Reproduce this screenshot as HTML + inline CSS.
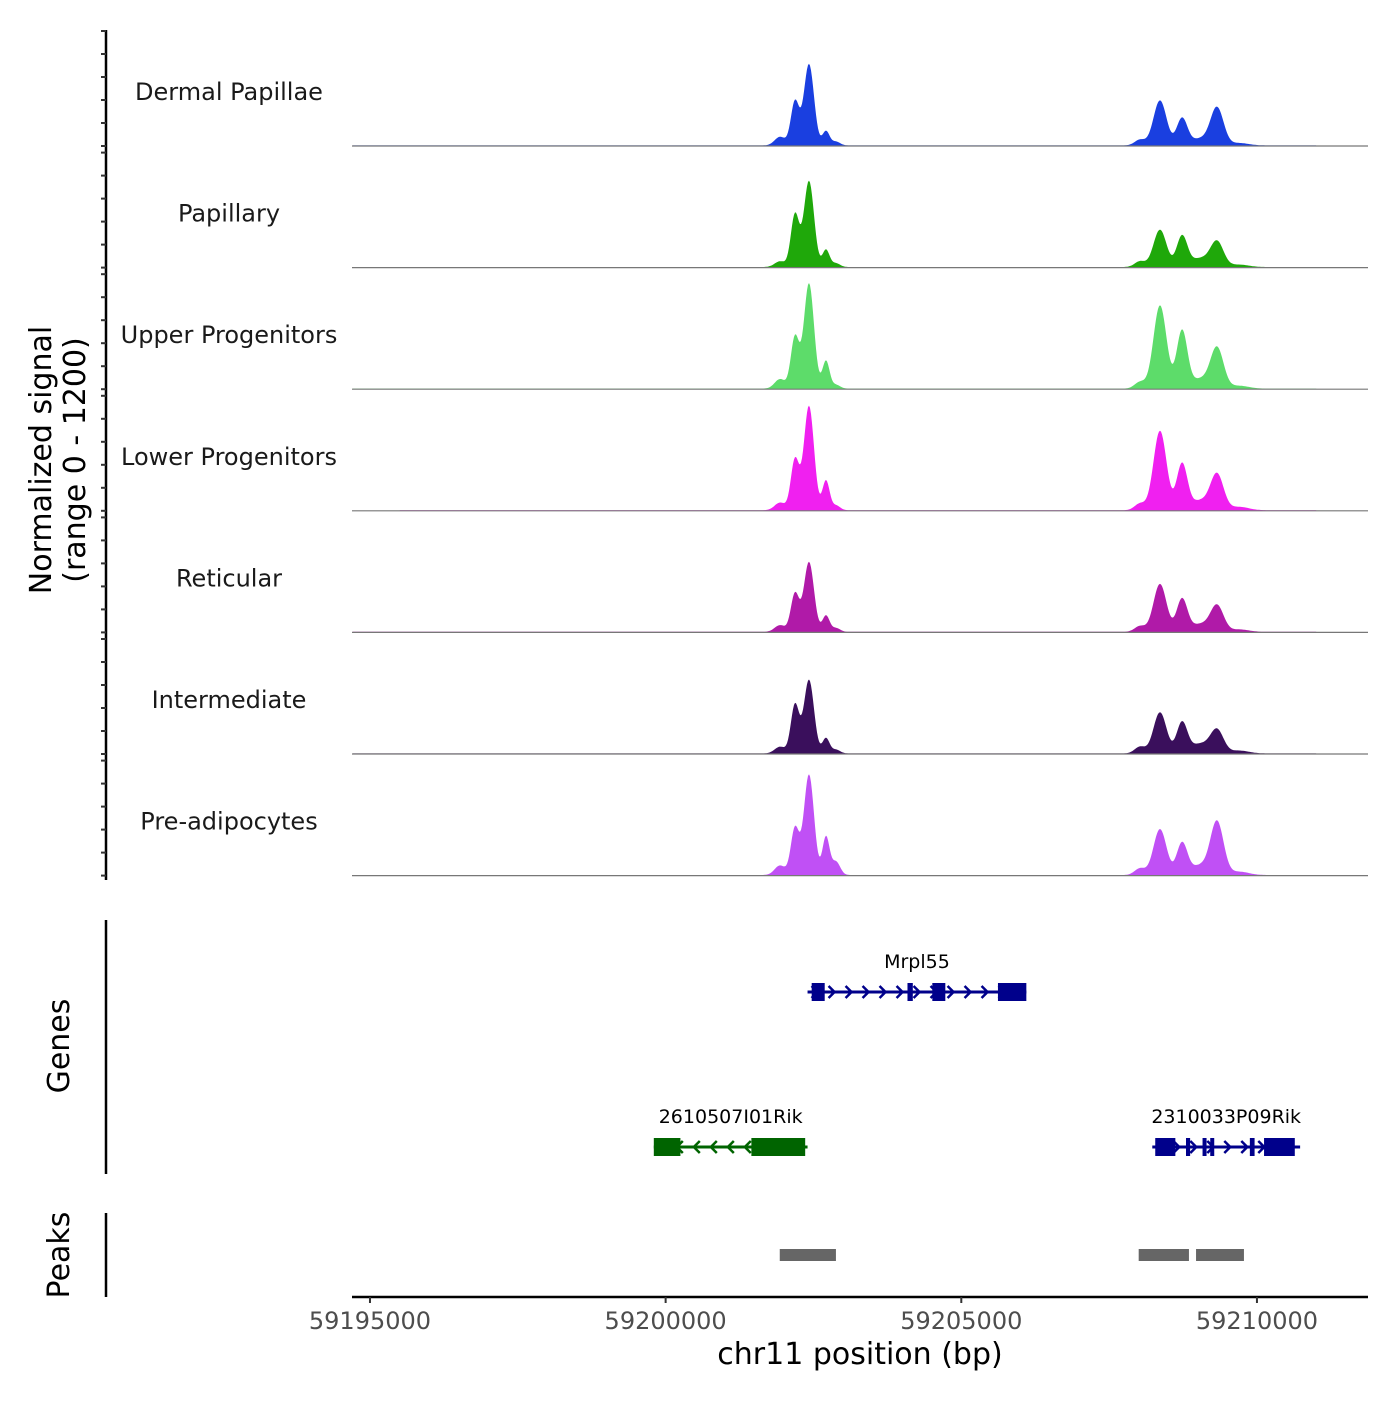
<!DOCTYPE html>
<html><head><meta charset="utf-8"><style>
body{margin:0;background:#fff}
svg{font-family:"DejaVu Sans","Liberation Sans",sans-serif}
</style></head><body>
<svg id="c" width="1400" height="1400" viewBox="0 0 1400 1400">
<g id="tracks"></g>
<g id="genes"></g>
<g id="peaks"></g>
<g id="xaxis"></g>
<text transform="translate(51,460) rotate(-90)" text-anchor="middle" font-size="30">Normalized signal</text>
<text transform="translate(85,460) rotate(-90)" text-anchor="middle" font-size="30">(range 0 - 1200)</text>
<text transform="translate(69,1046) rotate(-90)" text-anchor="middle" font-size="30">Genes</text>
<text transform="translate(69,1255) rotate(-90)" text-anchor="middle" font-size="30">Peaks</text>
<text x="860" y="1364" text-anchor="middle" font-size="30">chr11 position (bp)</text>
</svg>
<script>
const trackNames=["Dermal Papillae","Papillary","Upper Progenitors","Lower Progenitors","Reticular","Intermediate","Pre-adipocytes"];
const trackColors=["#1a3fe0","#1fa80a","#5ddc6a","#f020f0","#b01aa8","#3a0f5c","#c050f5"];
const peakCenters=[59201934,59202188,59202424,59202712,59202881,59208022,59208360,59208733,59209037,59209325,59209700];
const peakWidths=[90,70,85,60,70,90,110,90,160,110,160];
const h0=[90,460,850,150,40,60,470,280,70,390,25];
const h1=[60,550,900,180,40,60,390,320,90,260,25];
const h2=[100,540,1100,290,40,70,870,600,100,420,30];
const h3=[80,530,1090,310,50,70,830,480,100,370,35];
const h4=[70,400,730,170,40,60,500,340,80,270,25];
const h5=[70,510,770,160,40,70,430,320,100,240,30];
const h6=[100,490,1050,400,140,70,480,330,100,550,35];
const trackHeights=[h0,h1,h2,h3,h4,h5,h6];
const xTicks=[59195000,59200000,59205000,59210000];
const xDomain=[59194696,59211878];
const genes=[
 {name:"Mrpl55",start:59202400,end:59206100,strand:1,row:0,color:"#00008b",exons:[[59202470,59202690],[59204090,59204180],[59204510,59204730],[59205620,59206100]]},
 {name:"2610507I01Rik",start:59199800,end:59202400,strand:-1,row:1,color:"#006400",exons:[[59199800,59200250],[59201450,59202360]]},
 {name:"2310033P09Rik",start:59208230,end:59210730,strand:1,row:1,color:"#00008b",exons:[[59208280,59208620],[59208800,59208870],[59209080,59209130],[59209210,59209260],[59209880,59209960],[59210120,59210640]]}
];
const peakRegions=[[59201930,59202880],[59208000,59208850],[59208970,59209780]];

const NS="http://www.w3.org/2000/svg";
const X0=352,X1=1368;
function xs(bp){return X0+(bp-xDomain[0])/(xDomain[1]-xDomain[0])*(X1-X0);}
function mk(tag,attrs,parent){const e=document.createElementNS(NS,tag);for(const k in attrs)e.setAttribute(k,attrs[k]);parent.appendChild(e);return e;}
const tg=document.getElementById('tracks');
const TH=121.6,PH=115;
const ax=mk('line',{x1:106,x2:106,y1:30,y2:880,stroke:"#000","stroke-width":2.5},tg);


trackHeights.forEach((hs,i)=>{
 const base=146+i*TH;
 const ys=v=>base-v/1200*PH;
 for(let k=0;k<=5;k++){
  const t=mk('line',{x1:101,x2:106,y1:base-k*PH/5,y2:base-k*PH/5,stroke:"#333","stroke-width":2},tg);
  
  
 }
 let d="M"+X0+","+base;
 const startBp=i==3?59195500:xDomain[0];
 for(let px=X0;px<=X1;px+=1){
  const bp=xDomain[0]+(px-X0)/(X1-X0)*(xDomain[1]-xDomain[0]);
  let v=0;
  peakCenters.forEach((c,j)=>{const z=(bp-c)/peakWidths[j];v+=hs[j]*Math.exp(-z*z/2);});
  v+=bp>startBp&&bp<59211000?6:0;
  d+=" L"+px+","+ys(v).toFixed(1);
 }
 d+=" L"+X1+","+base+"Z";
 const a=mk('path',{d:d,fill:trackColors[i],stroke:"none"},tg);
 
 
 const bl=mk('line',{x1:X0,x2:X1,y1:base,y2:base,stroke:"#777","stroke-width":1.2},tg);
 
 
 const lb=mk('text',{x:229,y:base-46,"text-anchor":"middle","font-size":24,fill:"#1a1a1a"},tg);
 lb.textContent=trackNames[i];
 
 
});
const gg=document.getElementById('genes');
const gl=mk('line',{x1:106,x2:106,y1:920,y2:1174,stroke:"#000","stroke-width":2.5},gg);


genes.forEach(g=>{
 const y=g.row?1147:992;
 const x1=xs(g.start),x2=xs(g.end);
 const ln=mk('line',{x1:x1,x2:x2,y1:y,y2:y,stroke:g.color,"stroke-width":3},gg);
 
 
 for(let px=x1+8;px<x2-4;px+=17){
  const s=g.strand;
  const ar=mk('polyline',{points:`${px-4*s},${y-6} ${px+2*s},${y} ${px-4*s},${y+6}`,fill:"none",stroke:g.color,"stroke-width":2.5},gg);
  
  
 }
 g.exons.forEach(e=>{
  const r=mk('rect',{x:xs(e[0]),y:y-9,width:Math.max(4,xs(e[1])-xs(e[0])),height:18,fill:g.color},gg);
  
  
 });
 const t=mk('text',{x:(x1+x2)/2,y:y-24,"text-anchor":"middle","font-size":19,fill:"#000"},gg);
 t.textContent=g.name;
 
 
});
const pg=document.getElementById('peaks');
const pl=mk('line',{x1:106,x2:106,y1:1213,y2:1297,stroke:"#000","stroke-width":2.5},pg);


peakRegions.forEach(p=>{
 const r=mk('rect',{x:xs(p[0]),y:1249,width:xs(p[1])-xs(p[0]),height:12,fill:"#666"},pg);
 
 
});
const xg=document.getElementById('xaxis');
const xl=mk('line',{x1:X0,x2:X1,y1:1297,y2:1297,stroke:"#000","stroke-width":2.5},xg);


xTicks.forEach(v=>{
 const t=mk('line',{x1:xs(v),x2:xs(v),y1:1297,y2:1303,stroke:"#333","stroke-width":2},xg);
 
 
 const l=mk('text',{x:xs(v),y:1329,"text-anchor":"middle","font-size":24,fill:"#4d4d4d"},xg);
 l.textContent=v;
 
 
});
</script>
</body></html>
